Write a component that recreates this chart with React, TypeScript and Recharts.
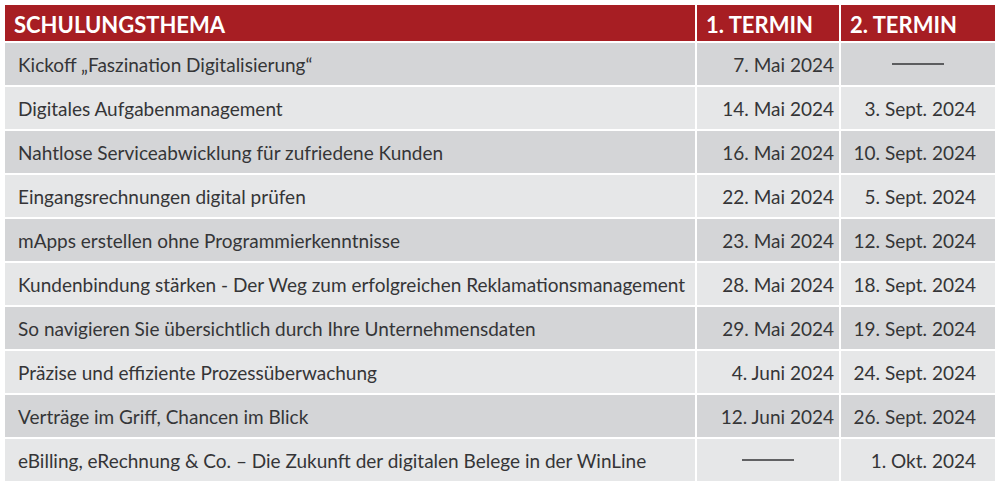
import { BarChart, Bar, XAxis, YAxis } from "recharts"

// Tabellen-Inhalt
const headers = ["SCHULUNGSTHEMA", "1. TERMIN", "2. TERMIN"]

const topics = [
  "Kickoff „Faszination Digitalisierung“",
  "Digitales Aufgabenmanagement",
  "Nahtlose Serviceabwicklung für zufriedene Kunden",
  "Eingangsrechnungen digital prüfen",
  "mApps erstellen ohne Programmierkenntnisse",
  "Kundenbindung stärken - Der Weg zum erfolgreichen Reklamationsmanagement",
  "So navigieren Sie übersichtlich durch Ihre Unternehmensdaten",
  "Präzise und effiziente Prozessüberwachung",
  "Verträge im Griff, Chancen im Blick",
  "eBilling, eRechnung & Co. – Die Zukunft der digitalen Belege in der WinLine",
]

const termin1 = [
  "7. Mai 2024",
  "14. Mai 2024",
  "16. Mai 2024",
  "22. Mai 2024",
  "23. Mai 2024",
  "28. Mai 2024",
  "29. Mai 2024",
  "4. Juni 2024",
  "12. Juni 2024",
  null,
]

const termin2 = [
  null,
  "3. Sept. 2024",
  "10. Sept. 2024",
  "5. Sept. 2024",
  "12. Sept. 2024",
  "18. Sept. 2024",
  "19. Sept. 2024",
  "24. Sept. 2024",
  "26. Sept. 2024",
  "1. Okt. 2024",
]

// Spaltenbreiten (Layout, keine Daten)
const COL_W = [692, 144, 156]
const TOTAL_W = COL_W[0] + COL_W[1] + COL_W[2]

const RED = "#a71e23"
const DARK = "#d4d5d7"
const LIGHT = "#e6e7e8"
const TEXT = "#353537"
const FONT = "Lato, 'Noto Sans', sans-serif"

const headerData = [{ key: "header", c1: COL_W[0], c2: COL_W[1], c3: COL_W[2] }]

const bodyData = topics.map((topic, i) => ({
  topic,
  t1: termin1[i],
  t2: termin2[i],
  c1: COL_W[0],
  c2: COL_W[1],
  c3: COL_W[2],
}))

type CellProps = {
  x?: number
  y?: number
  width?: number
  height?: number
  index?: number
  payload?: any
}

/** Tabellenzelle als Bar-Shape */
function makeCell(col: number, header: boolean) {
  return (props: CellProps) => {
    const { x = 0, y = 0, width = 0, height = 0, index = 0, payload } = props
    const fill = header ? RED : index % 2 === 0 ? DARK : LIGHT
    const cy = y + height / 2
    let text: string | null = null
    if (header) text = headers[col]
    else text = col === 0 ? payload.topic : col === 1 ? payload.t1 : payload.t2

    let label = null
    if (text == null) {
      const cx = x + width / 2
      label = <line x1={cx - 26} x2={cx + 26} y1={cy} y2={cy} stroke={TEXT} strokeWidth={1.5} />
    } else if (header) {
      label = (
        <text
          x={x + 10}
          y={cy + 1}
          dominantBaseline="central"
          fill="#fff"
          fontFamily={FONT}
          fontWeight={700}
          fontSize={22}
        >
          {text}
        </text>
      )
    } else {
      const right = col === 1 ? x + width - 6 : x + width - 20
      label = (
        <text
          x={col === 0 ? x + 14 : right}
          y={cy}
          textAnchor={col === 0 ? "start" : "end"}
          dominantBaseline="central"
          fill={TEXT}
          fontFamily={FONT}
          fontSize={19}
        >
          {text}
        </text>
      )
    }

    return (
      <g>
        <rect x={x} y={y} width={width} height={height} fill={fill} stroke="#fff" strokeWidth={2} />
        {label}
      </g>
    )
  }
}

function Bars(header: boolean) {
  return ["c1", "c2", "c3"].map((k, col) => (
    <Bar
      key={k}
      dataKey={k}
      stackId="row"
      isAnimationActive={false}
      shape={makeCell(col, header) as any}
    />
  ))
}

export default function App() {
  return (
    <div style={{ position: "absolute", left: 4, top: 4, background: "#fff" }}>
      <BarChart
        width={TOTAL_W}
        height={38}
        layout="vertical"
        data={headerData}
        margin={{ top: 0, right: 0, bottom: 0, left: 0 }}
        barCategoryGap={0}
      >
        <XAxis type="number" hide domain={[0, TOTAL_W]} />
        <YAxis type="category" dataKey="key" hide />
        {Bars(true)}
      </BarChart>
      <BarChart
        width={TOTAL_W}
        height={440}
        layout="vertical"
        data={bodyData}
        margin={{ top: 0, right: 0, bottom: 0, left: 0 }}
        barCategoryGap={0}
      >
        <XAxis type="number" hide domain={[0, TOTAL_W]} />
        <YAxis type="category" dataKey="topic" hide />
        {Bars(false)}
      </BarChart>
    </div>
  )
}
